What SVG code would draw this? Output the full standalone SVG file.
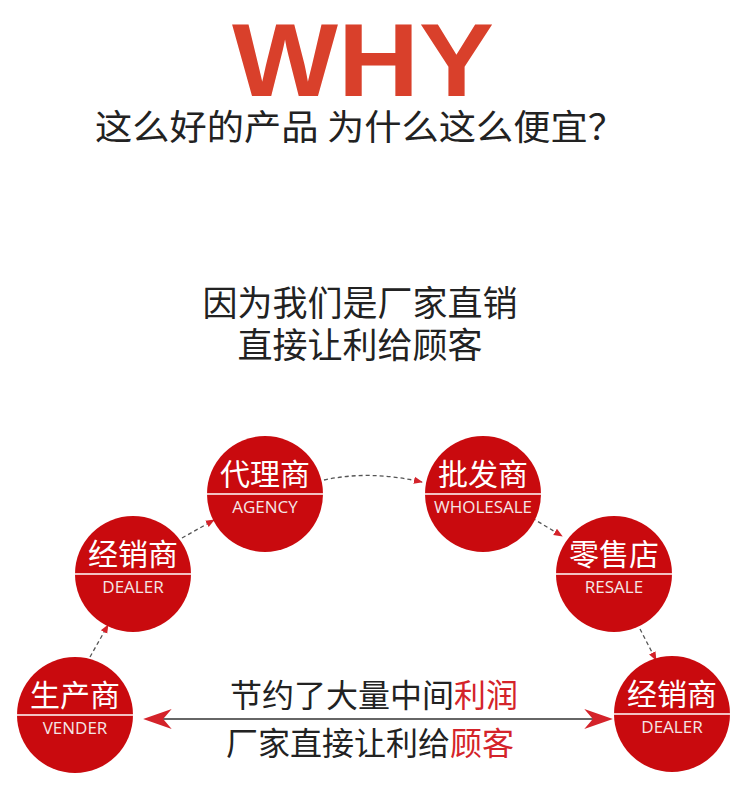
<svg xmlns="http://www.w3.org/2000/svg" width="750" height="787" viewBox="0 0 750 787">
<style>
.c{fill:#c90a0e}
.cn{font-family:"Noto Sans CJK SC",sans-serif;fill:#fff;font-size:30px;text-anchor:middle}
.en{font-family:"Open Sans","Liberation Sans",sans-serif;fill:#f4e6e6;font-size:17px;text-anchor:middle}
.dv{stroke:#fff;stroke-width:1.5}
.t{font-family:"Noto Sans CJK SC",sans-serif;fill:#222;text-anchor:middle}
.d{fill:none;stroke:#555;stroke-width:1.3;stroke-dasharray:4 3}
</style>
<defs>
<marker id="a" viewBox="0 0 10 10" refX="9" refY="5" markerWidth="9" markerHeight="9" orient="auto-start-reverse" markerUnits="userSpaceOnUse"><path d="M0,1 L10,5 L0,9 Z" fill="#d4232a"/></marker>
<marker id="b" viewBox="0 0 20 14" refX="18" refY="7" markerWidth="30" markerHeight="20" orient="auto-start-reverse" markerUnits="userSpaceOnUse"><path d="M20,7 L0,0 L6,7 L0,14 Z" fill="#d4232a"/></marker>
</defs>
<rect width="750" height="787" fill="#fff"/>
<text x="363" y="96" font-family="Liberation Sans,sans-serif" font-weight="bold" font-size="104" fill="#d9402b" text-anchor="middle" textLength="262" lengthAdjust="spacingAndGlyphs">WHY</text>
<text x="360" y="140" class="t" font-size="35" textLength="530" lengthAdjust="spacingAndGlyphs">这么好的产品 为什么这么便宜？</text>
<text x="360" y="316" class="t" font-size="35">因为我们是厂家直销</text>
<text x="360" y="358" class="t" font-size="35">直接让利给顾客</text>
<g id="connectors">
<path class="d" d="M90,657 L108,625" marker-end="url(#a)"/>
<path class="d" d="M182,538 L214,520" marker-end="url(#a)"/>
<path class="d" d="M324,480 Q370,470 422,482" marker-end="url(#a)"/>
<path class="d" d="M532,518 L562,536" marker-end="url(#a)"/>
<path class="d" d="M640,629 L656,660" marker-end="url(#a)"/>
<line x1="146" y1="719" x2="610" y2="719" stroke="#333" stroke-width="1.3" marker-start="url(#b)" marker-end="url(#b)"/>
</g>
<g id="n1"><circle class="c" cx="75" cy="715" r="58"/><line class="dv" x1="17" y1="715" x2="133" y2="715"/><text class="cn" x="75" y="706">生产商</text><text class="en" x="75" y="734">VENDER</text></g>
<g id="n2"><circle class="c" cx="133" cy="574" r="58"/><line class="dv" x1="75" y1="574" x2="191" y2="574"/><text class="cn" x="133" y="565">经销商</text><text class="en" x="133" y="593">DEALER</text></g>
<g id="n3"><circle class="c" cx="265" cy="494" r="58"/><line class="dv" x1="207" y1="494" x2="323" y2="494"/><text class="cn" x="265" y="485">代理商</text><text class="en" x="265" y="513">AGENCY</text></g>
<g id="n4"><circle class="c" cx="483" cy="494" r="58"/><line class="dv" x1="425" y1="494" x2="541" y2="494"/><text class="cn" x="483" y="485">批发商</text><text class="en" x="483" y="513" textLength="98" lengthAdjust="spacingAndGlyphs">WHOLESALE</text></g>
<g id="n5"><circle class="c" cx="614" cy="574" r="58"/><line class="dv" x1="556" y1="574" x2="672" y2="574"/><text class="cn" x="614" y="565">零售店</text><text class="en" x="614" y="593">RESALE</text></g>
<g id="n6"><circle class="c" cx="672" cy="714" r="58"/><line class="dv" x1="614" y1="714" x2="730" y2="714"/><text class="cn" x="672" y="705">经销商</text><text class="en" x="672" y="733">DEALER</text></g>
<text x="374" y="707" class="t" font-size="32">节约了大量中间<tspan fill="#d4232a">利润</tspan></text>
<text x="370" y="755" class="t" font-size="32">厂家直接让利给<tspan fill="#d4232a">顾客</tspan></text>
</svg>
